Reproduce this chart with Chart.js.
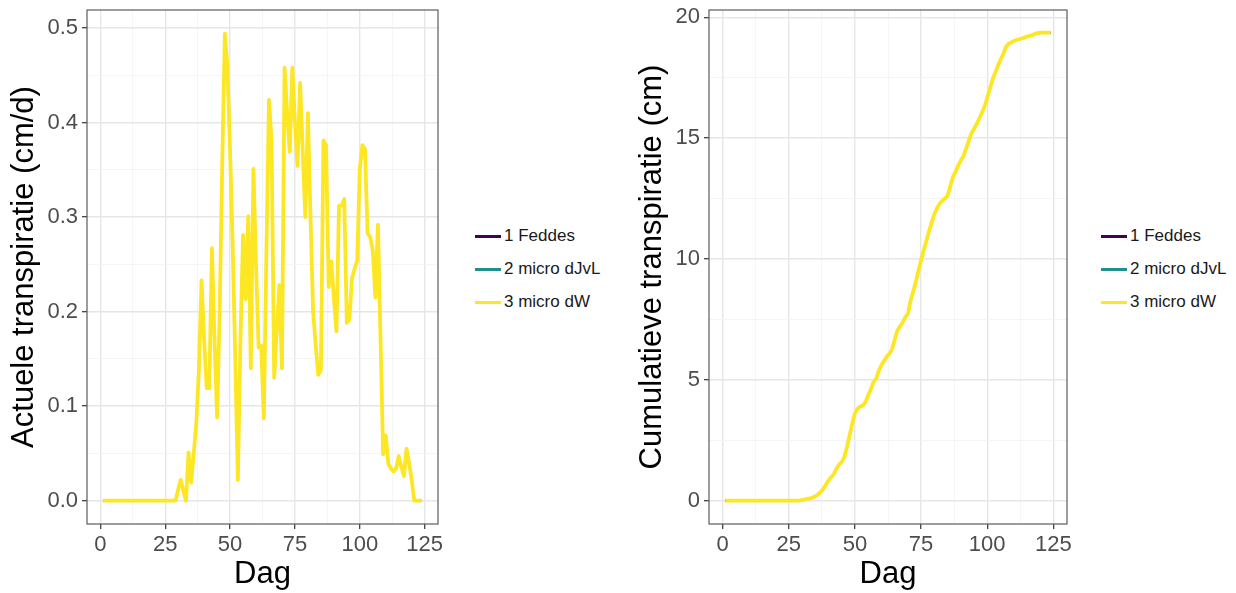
<!DOCTYPE html>
<html>
<head>
<meta charset="utf-8">
<title>Transpiratie</title>
<script src="https://cdn.jsdelivr.net/npm/chart.js@4.4.1/dist/chart.umd.min.js"></script>
<style>
  html, body { margin: 0; padding: 0; background: #fff; }
  #wrap { position: relative; width: 1236px; height: 593px; overflow: hidden; font-family: "Liberation Sans", Arial, sans-serif; }
  #wrap canvas { position: absolute; top: 0; }
  #c-act { left: 0; }
  #c-cum { left: 630px; }
  .legend { position: absolute; top: 0; width: 140px; height: 593px; }
  .legend .item { position: absolute; left: 0; height: 20px; white-space: nowrap; font-size: 17px; line-height: 20px; color: #1a1a1a; }
  .legend .key { position: absolute; left: 0; top: 9px; width: 26px; height: 3px; }
  .legend .lbl { position: absolute; left: 29px; top: 0; }
</style>
</head>
<body>
<div id="wrap">
  <canvas id="c-act" width="445" height="593"></canvas>
  <canvas id="c-cum" width="445" height="593"></canvas>
  <div class="legend" id="leg-act" style="left:475px"></div>
  <div class="legend" id="leg-cum" style="left:1101px"></div>
</div>
<script>
(function () {
  'use strict';

  // data (dag 1 t/m 124)
  var firstDay = 1;
  var actTransp = [
    0, 0, 0, 0, 0, 0, 0, 0, 0, 0,
    0, 0, 0, 0, 0, 0, 0, 0, 0, 0,
    0, 0, 0, 0, 0, 0, 0, 0, 0, 0.012,
    0.022, 0.01, 0, 0.051, 0.019, 0.05, 0.083, 0.14, 0.233, 0.17,
    0.119, 0.119, 0.267, 0.17, 0.088, 0.2, 0.36, 0.494, 0.458, 0.37,
    0.27, 0.15, 0.022, 0.17, 0.281, 0.213, 0.301, 0.14, 0.351, 0.25,
    0.162, 0.164, 0.087, 0.26, 0.424, 0.379, 0.13, 0.18, 0.228, 0.14,
    0.458, 0.41, 0.369, 0.458, 0.40, 0.354, 0.442, 0.37, 0.30, 0.41,
    0.30, 0.20, 0.165, 0.133, 0.138, 0.381, 0.376, 0.226, 0.253, 0.215,
    0.179, 0.312, 0.312, 0.319, 0.188, 0.192, 0.235, 0.245, 0.254, 0.351,
    0.376, 0.372, 0.283, 0.279, 0.265, 0.215, 0.292, 0.17, 0.049, 0.069,
    0.039, 0.034, 0.031, 0.034, 0.047, 0.036, 0.026, 0.055, 0.04, 0.022,
    0, 0, 0, 0
  ];
  var cumTransp = [
    0, 0, 0, 0, 0, 0, 0, 0, 0, 0,
    0, 0, 0, 0, 0, 0, 0, 0, 0, 0,
    0, 0, 0, 0, 0, 0, 0, 0, 0, 0.02,
    0.05, 0.07, 0.09, 0.12, 0.18, 0.25, 0.35, 0.48, 0.66, 0.83,
    0.97, 1.09, 1.32, 1.49, 1.59, 1.8, 2.22, 2.7, 3.2, 3.62,
    3.8, 3.9, 3.93, 4.08, 4.36, 4.6, 4.9, 5.04, 5.37, 5.6,
    5.78, 5.95, 6.08, 6.25, 6.65, 7.03, 7.2, 7.36, 7.58, 7.72,
    8.25, 8.65, 9.05, 9.5, 9.95, 10.35, 10.75, 11.15, 11.5, 11.85,
    12.1, 12.28, 12.4, 12.5, 12.6, 13.0, 13.38, 13.6, 13.86, 14.07,
    14.25, 14.56, 14.87, 15.2, 15.38, 15.58, 15.81, 16.06, 16.31, 16.67,
    17.04, 17.42, 17.7, 17.98, 18.24, 18.46, 18.75, 18.9, 18.95, 19.02,
    19.06, 19.09, 19.12, 19.15, 19.2, 19.23, 19.26, 19.31, 19.34, 19.36,
    19.36, 19.36, 19.36, 19.36
  ];
  var seriesNames = ['1 Feddes', '2 micro dJvL', '3 micro dW'];
  var seriesColors = ['#440154', '#21908C', '#FDE725'];
  var xTickLabels = [0, 25, 50, 75, 100, 125];
  var yTickLabelsAct = [0, 0.1, 0.2, 0.3, 0.4, 0.5];
  var yTickLabelsCum = [0, 5, 10, 15, 20];

  var FONT = '"Liberation Sans", Arial, sans-serif';

  function points(values) {
    return values.map(function (v, i) { return { x: firstDay + i, y: v }; });
  }

  function inList(list, v) {
    for (var i = 0; i < list.length; i++) {
      if (Math.abs(list[i] - v) < 1e-6) return true;
    }
    return false;
  }

  function gridFor(list) {
    return {
      color: function (c) { return inList(list, c.tick.value) ? '#e6e6e6' : '#f2f2f2'; },
      lineWidth: function (c) { return inList(list, c.tick.value) ? 1.4 : 0.8; },
      tickColor: function (c) { return inList(list, c.tick.value) ? '#333333' : 'rgba(0,0,0,0)'; },
      tickLength: 5,
      tickWidth: 1.2,
      drawTicks: true
    };
  }

  // kader rond het plotvlak
  var framePlugin = {
    id: 'frame',
    afterDraw: function (chart) {
      var a = chart.chartArea;
      var ctx = chart.ctx;
      ctx.save();
      ctx.strokeStyle = '#5c5c5c';
      ctx.lineWidth = 1.2;
      ctx.strokeRect(a.left, a.top, a.right - a.left, a.bottom - a.top);
      ctx.restore();
    }
  };

  function makeChart(id, values, yMin, yMax, yStep, yLabels, yFmt, yTitle, yWidth, titlePad, padRight) {
    var last = seriesNames.length - 1;
    var datasets = seriesNames.map(function (name, i) {
      return {
        label: name,
        data: points(values),
        borderColor: seriesColors[i],
        backgroundColor: seriesColors[i],
        // onderliggende reeksen vallen samen met de gele lijn
        borderWidth: i === last ? 3.8 : 2,
        pointRadius: 0,
        tension: 0,
        borderJoinStyle: 'round',
        order: last - i
      };
    });
    return new Chart(document.getElementById(id).getContext('2d'), {
      type: 'line',
      data: { datasets: datasets },
      plugins: [framePlugin],
      options: {
        responsive: false,
        animation: false,
        devicePixelRatio: 1,
        layout: { padding: { top: 10, right: padRight, bottom: 0, left: 0 } },
        plugins: { legend: { display: false }, tooltip: { enabled: false } },
        scales: {
          x: {
            type: 'linear',
            min: -5.15,
            max: 130.15,
            border: { display: false },
            grid: gridFor(xTickLabels),
            ticks: {
              stepSize: 12.5,
              includeBounds: false,
              autoSkip: false,
              maxRotation: 0,
              padding: 3,
              color: '#4d4d4d',
              font: { family: FONT, size: 22 },
              callback: function (v) { return inList(xTickLabels, v) ? String(Math.round(v)) : ''; }
            },
            title: {
              display: true,
              text: 'Dag',
              color: '#000',
              font: { family: FONT, size: 31 },
              padding: { top: 0, bottom: 0 }
            },
            afterFit: function (s) {
              s.height = 69;
              s.paddingLeft = 0;
              s.paddingRight = 0;
            }
          },
          y: {
            type: 'linear',
            min: yMin,
            max: yMax,
            border: { display: false },
            grid: gridFor(yLabels),
            ticks: {
              stepSize: yStep,
              includeBounds: false,
              autoSkip: false,
              padding: 4,
              color: '#4d4d4d',
              font: { family: FONT, size: 22 },
              callback: function (v) { return inList(yLabels, v) ? yFmt(v) : ''; }
            },
            title: {
              display: true,
              text: yTitle,
              color: '#000',
              font: { family: FONT, size: 31 },
              padding: { top: titlePad, bottom: 0 }
            },
            afterFit: function (s) {
              s.width = yWidth;
              s.paddingTop = 0;
              s.paddingBottom = 0;
            }
          }
        }
      }
    });
  }

  makeChart('c-act', actTransp, -0.0247, 0.519, 0.05, yTickLabelsAct,
    function (v) { return v.toFixed(1); }, 'Actuele transpiratie (cm/d)', 87, 6, 7);
  makeChart('c-cum', cumTransp, -0.968, 20.3, 2.5, yTickLabelsCum,
    function (v) { return String(Math.round(v)); }, 'Cumulatieve transpiratie (cm)', 79, 4, 8);

  // legenda's
  function buildLegend(id) {
    var box = document.getElementById(id);
    seriesNames.forEach(function (name, i) {
      var item = document.createElement('div');
      item.className = 'item';
      item.style.top = (226 + i * 33) + 'px';
      var key = document.createElement('div');
      key.className = 'key';
      key.style.background = seriesColors[i];
      var lbl = document.createElement('span');
      lbl.className = 'lbl';
      lbl.textContent = name;
      item.appendChild(key);
      item.appendChild(lbl);
      box.appendChild(item);
    });
  }
  buildLegend('leg-act');
  buildLegend('leg-cum');
})();
</script>
</body>
</html>
